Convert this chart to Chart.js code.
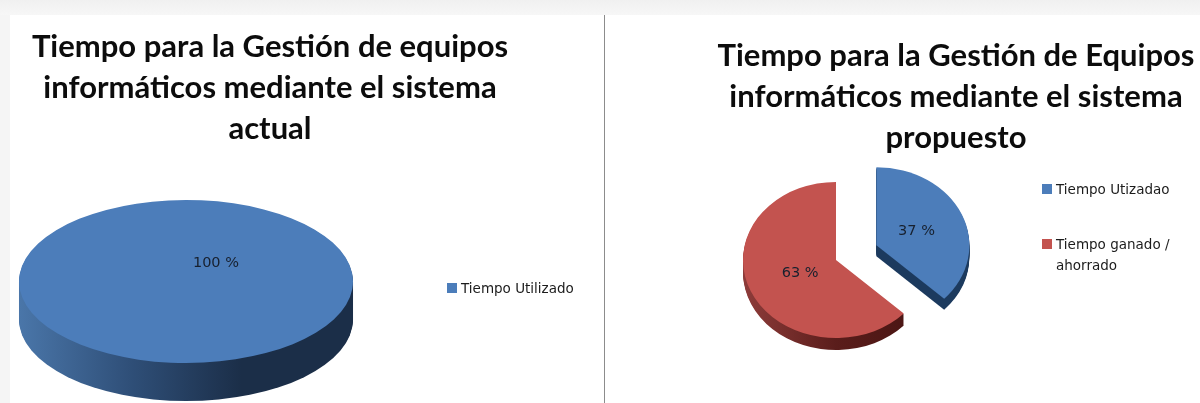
<!DOCTYPE html>
<html>
<head>
<meta charset="utf-8">
<script src="https://cdn.jsdelivr.net/npm/chart.js@4"></script>
<style>
  html, body { margin:0; padding:0; width:1200px; height:403px; overflow:hidden; background:#fff; }
  #wrap { position:relative; width:1200px; height:403px; filter:blur(0.45px); }
  #topbar { position:absolute; left:0; top:0; width:1200px; height:15px; background:linear-gradient(#f0f0f0,#f7f7f7); }
  #leftbar { position:absolute; left:0; top:15px; width:10px; height:388px; background:#f5f5f5; }
  #divider { position:absolute; left:604px; top:15px; width:1px; height:388px; background:#8c8c8c; }
  canvas { position:absolute; top:0; }
  #c1 { left:0; }
  #c2 { left:606px; }
  .title { position:absolute; font:bold 31px/41px Lato, sans-serif; color:#0c0c0c; text-align:center; white-space:nowrap; }
  .legend { position:absolute; font:13.5px/21px "DejaVu Sans", sans-serif; color:#1c1c1c; white-space:nowrap; }
  .legend i { position:absolute; width:10px; height:10px; left:0; top:5px; }
  .legend div { position:relative; padding-left:14px; }
</style>
</head>
<body>
<div id="wrap">
  <div id="topbar"></div>
  <div id="leftbar"></div>
  <div id="divider"></div>
  <canvas id="c1" width="600" height="403"></canvas>
  <canvas id="c2" width="594" height="403"></canvas>
  <div class="title" style="left:0;width:540px;top:25px" id="t1"></div>
  <div class="title" style="left:656px;width:600px;top:34px" id="t2"></div>
  <div class="legend" id="l1" style="left:447px;top:278px"></div>
  <div class="legend" id="l2" style="left:1042px;top:179px"></div>
</div>
<script>
const tituloActual = ['Tiempo para la Gestión de equipos', 'informáticos mediante el sistema', 'actual'];
const tituloPropuesto = ['Tiempo para la Gestión de Equipos', 'informáticos mediante el sistema', 'propuesto'];
const categoriasActual = ['Tiempo Utilizado'];
const valoresActual = [100];
const categoriasPropuesto = ['Tiempo Utizadao', 'Tiempo ganado / ahorrado'];
const valoresPropuesto = [37, 63];
const AZUL = '#4c7dba';
const ROJO = '#c3534f';

// pinta las porciones aplastadas, con su canto, usando los arcos del propio Chart.js
const pie3d = {
  id: 'pie3d',
  beforeDatasetDraw(chart, args, opts) {
    const ctx = chart.ctx;
    const arcs = chart.getDatasetMeta(0).data;
    const values = chart.data.datasets[0].data;

    function place(arc, i) {
      const mid = (arc.startAngle + arc.endAngle) / 2;
      const ex = opts.explode[i] || 0;
      ctx.translate(arc.x, arc.y);
      ctx.scale(1, opts.squash);
      ctx.translate(-arc.x, -arc.y);
      ctx.translate(Math.cos(mid) * ex, Math.sin(mid) * ex);
    }

    // canto
    arcs.forEach((arc, i) => {
      for (let d = opts.depth[i]; d >= 1; d--) {
        ctx.save();
        ctx.translate(0, d);
        place(arc, i);
        const g = ctx.createLinearGradient(arc.x - arc.outerRadius, 0, arc.x + arc.outerRadius, 0);
        opts.side[i].forEach((c, k) => g.addColorStop(k / (opts.side[i].length - 1), c));
        ctx.fillStyle = g;
        ctx.beginPath();
        if (arc.endAngle - arc.startAngle < Math.PI * 2 - 0.001) ctx.moveTo(arc.x, arc.y);
        ctx.arc(arc.x, arc.y, arc.outerRadius, arc.startAngle, arc.endAngle);
        ctx.closePath();
        ctx.fill();
        ctx.restore();
      }
    });

    // cara superior
    arcs.forEach((arc, i) => {
      ctx.save();
      place(arc, i);
      arc.draw(ctx);
      ctx.restore();
    });

    // etiquetas
    arcs.forEach((arc, i) => {
      const mid = (arc.startAngle + arc.endAngle) / 2;
      const r = (opts.explode[i] || 0) + arc.outerRadius * opts.labelDist[i];
      ctx.save();
      ctx.font = '14.5px "DejaVu Sans", sans-serif';
      ctx.fillStyle = '#17202e';
      ctx.textAlign = 'center';
      ctx.textBaseline = 'middle';
      ctx.fillText(values[i] + ' %', arc.x + Math.cos(mid) * r, arc.y + Math.sin(mid) * r * opts.squash);
      ctx.restore();
    });
    return false;
  }
};

function crearPie(id, labels, data, colors, radius, rotation, padding, p3d) {
  return new Chart(document.getElementById(id), {
    type: 'pie',
    data: { labels, datasets: [{ data, backgroundColor: colors, borderWidth: 0 }] },
    options: {
      responsive: false,
      animation: false,
      rotation,
      radius,
      layout: { padding },
      plugins: { legend: { display: false }, tooltip: { enabled: false }, pie3d: p3d }
    },
    plugins: [pie3d]
  });
}

crearPie('c1', categoriasActual, valoresActual, [AZUL], 167, -141,
  { left: 0, right: 228, top: 160, bottom: 0 },
  { squash: 0.488, explode: [0], depth: [38],
    side: [['#4a76a9', '#2f4f78', '#1b2e48', '#1b2e48']], labelDist: [0.285] });

crearPie('c2', categoriasPropuesto, valoresPropuesto, [AZUL, ROJO], 93, 0,
  { left: 0, right: 134, top: 117, bottom: 0 },
  { squash: 0.84, explode: [44, 0], depth: [11, 12],
    side: [['#1c3a5e', '#1c3a5e'], ['#8e3c3a', '#5a1d1b', '#471412']], labelDist: [0.47, 0.42] });

document.getElementById('t1').innerHTML = tituloActual.join('<br>');
document.getElementById('t2').innerHTML = tituloPropuesto.join('<br>');

document.getElementById('l1').innerHTML = categoriasActual
  .map(c => `<div><i style="background:${AZUL}"></i>${c}</div>`).join('');
document.getElementById('l2').innerHTML =
  `<div style="margin-bottom:34px"><i style="background:${AZUL}"></i>${categoriasPropuesto[0]}</div>` +
  `<div><i style="background:${ROJO}"></i>Tiempo ganado /<br>ahorrado</div>`;
</script>
</body>
</html>
